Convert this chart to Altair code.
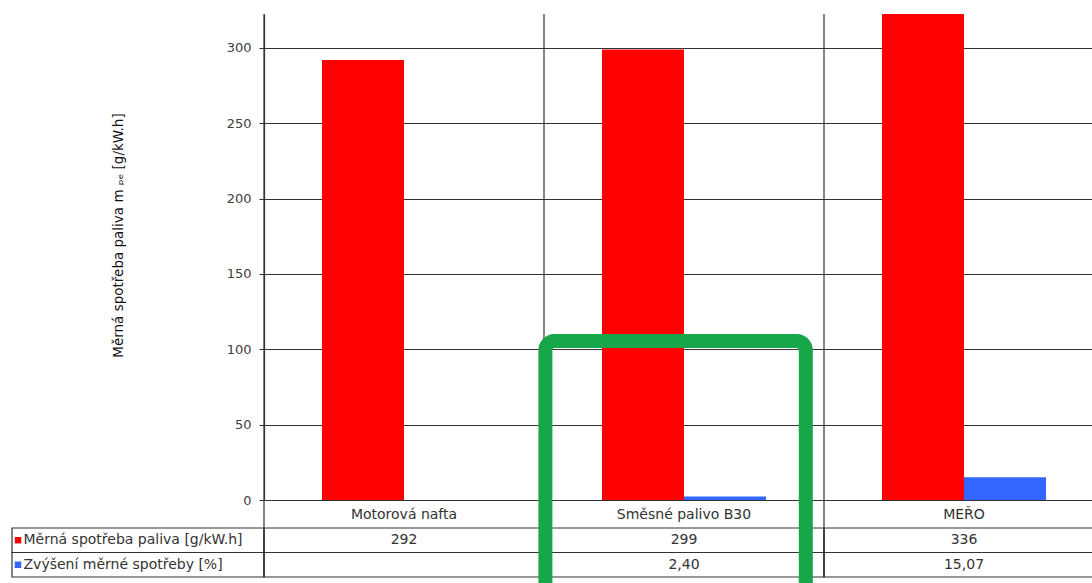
import altair as alt
import pandas as pd

# ---- data ----
categories = ["Motorová nafta", "Směsné palivo B30", "MEŘO"]
fuel_consumption = [292, 299, 336]            # g/kW.h
consumption_increase = [None, 2.40, 15.07]    # %
series_names = ["Měrná spotřeba paliva [g/kW.h]", "Zvýšení měrné spotřeby [%]"]
series_colors = ["#ff0000", "#3366ff"]
y_ticks = [0, 50, 100, 150, 200, 250, 300]
y_max = 322.5
y_title = "Měrná spotřeba paliva m ₚₑ [g/kW.h]"

# annotation (green highlight box around B30)
highlight_category = "Směsné palivo B30"
highlight_top = 105.5
highlight_bottom = -70

# ---- build tables ----
rows = []
for c, f, inc in zip(categories, fuel_consumption, consumption_increase):
    rows.append({"category": c, "series": series_names[0], "value": f, "label": str(f)})
    rows.append({"category": c, "series": series_names[1], "value": inc,
                 "label": "" if inc is None else f"{inc:.2f}".replace(".", ",")})
df = pd.DataFrame(rows)
cat_df = pd.DataFrame({"category": categories})
ser_df = pd.DataFrame({"series": series_names})
hl_df = pd.DataFrame({"category": [highlight_category], "top": [highlight_top], "bottom": [highlight_bottom]})

FONT = "DejaVu Sans"
LINE = "#333333"
TXT = "#333333"
GREEN = "#17a74a"
W, H = 828, 569

x_scale = alt.Scale(domain=categories, range=[0, 840], paddingInner=0, paddingOuter=0)
x_axis = alt.Axis(orient="bottom", offset=-83, domain=False, ticks=False, grid=False,
                  labelAngle=0, labelFont=FONT, labelFontSize=14, labelColor=TXT,
                  labelBaseline="middle", labelPadding=14, title=None)
xoff_scale = alt.Scale(domain=series_names, paddingInner=0, paddingOuter=0.707)
color_scale = alt.Scale(domain=series_names, range=series_colors)

y_val_scale = alt.Scale(domain=[0, y_max], range=[486, 0], nice=False, zero=True)
y_val_axis = alt.Axis(orient="left", values=y_ticks, grid=True, gridColor=LINE, gridWidth=1.2,
                      domainColor=LINE, domainWidth=1.2, tickColor=LINE, tickSize=5,
                      labelFont=FONT, labelFontSize=13, labelColor="#404040", labelPadding=8,
                      title=y_title, titleFont=FONT, titleFontSize=13.5, titleFontWeight="normal",
                      titleColor="#111111", titleX=-146, titleY=221, titleAngle=270,
                      titleAlign="center", titleBaseline="middle")

y_tab_scale = alt.Scale(domain=series_names, range=[514, 563], paddingInner=0, paddingOuter=0)
y_tab_axis = alt.Axis(orient="left", grid=False, domain=False, tickOpacity=0, tickSize=252,
                      labelAlign="left", labelPadding=-11, labelLimit=300, labelFont=FONT,
                      labelFontSize=14, labelColor=TXT, title=None)

X = alt.X("category:N", sort=categories, scale=x_scale, axis=x_axis)

# category separators
sep = alt.Chart(cat_df).mark_rule(color=LINE, strokeWidth=1.2).encode(
    x=alt.X("category:N", sort=categories, scale=x_scale, axis=x_axis, bandPosition=0),
    y=alt.value(0), y2=alt.value(563),
)

# data table
Y_TAB = alt.Y("series:N", sort=series_names, scale=y_tab_scale, axis=y_tab_axis)
legend_cells = alt.Chart(ser_df).mark_rect(filled=False, color=LINE, strokeWidth=1.2).encode(
    x=alt.value(-252), x2=alt.value(0), y=Y_TAB
)
value_cells = alt.Chart(df).mark_rect(filled=False, color=LINE, strokeWidth=1.2).encode(
    x=X, y=Y_TAB
)
tab_text = alt.Chart(df).mark_text(font=FONT, fontSize=14, color=TXT, baseline="middle").encode(
    x=X, y=Y_TAB, text="label:N"
)
squares = alt.Chart(ser_df).mark_square(size=42, filled=True, opacity=1).encode(
    x=alt.value(-246), y=Y_TAB,
    color=alt.Color("series:N", scale=color_scale, legend=None)
)
table_group = alt.layer(legend_cells, value_cells, tab_text, squares)

# bars
bars = alt.Chart(df).mark_bar(clip=True).encode(
    x=X,
    xOffset=alt.XOffset("series:N", sort=series_names, scale=xoff_scale),
    y=alt.Y("value:Q", scale=y_val_scale, axis=y_val_axis),
    color=alt.Color("series:N", scale=color_scale, legend=None),
)
highlight = alt.Chart(hl_df).mark_rect(filled=False, color=GREEN, strokeWidth=14,
                                       cornerRadius=9, clip=True).encode(
    x=alt.X("category:N", sort=categories, scale=x_scale, axis=x_axis, bandPosition=0.005),
    x2=alt.X2("category", bandPosition=0.935),
    y=alt.Y("top:Q", scale=y_val_scale, axis=y_val_axis),
    y2="bottom",
)
value_group = alt.layer(bars, highlight)

chart = alt.layer(sep, table_group, value_group).resolve_scale(y="independent").properties(
    width=W, height=H,
    autosize=alt.AutoSizeParams(type="none"),
    padding={"left": 264, "top": 14, "right": 0, "bottom": 0},
    background="white",
).configure_view(stroke=None)

chart.save("out.html", embed_options={"renderer": "svg", "actions": False})
